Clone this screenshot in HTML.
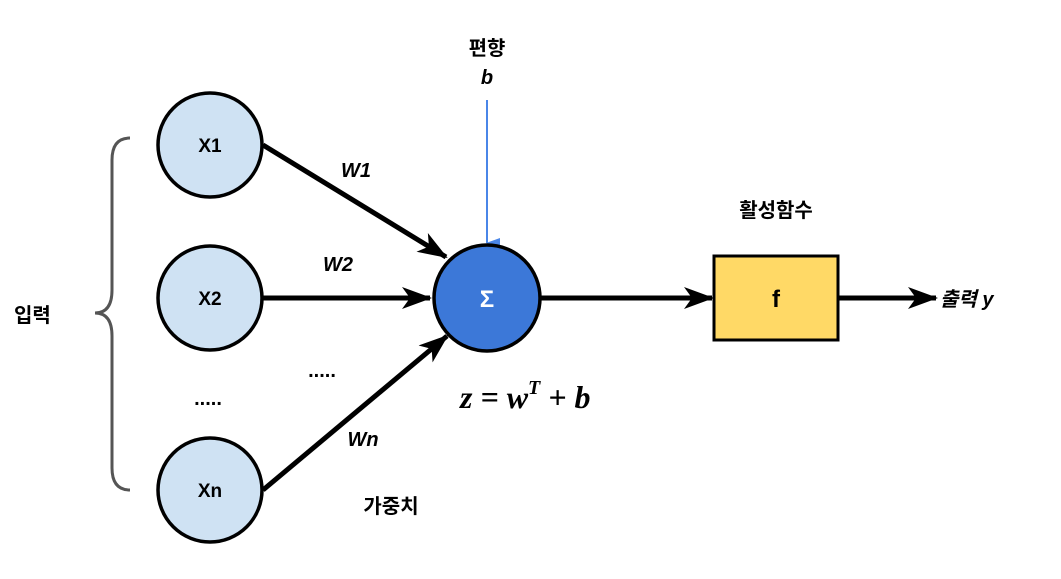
<!DOCTYPE html>
<html><head><meta charset="utf-8"><style>
body{margin:0;background:#fff;width:1061px;height:574px;overflow:hidden}
text{font-family:"Liberation Sans","Noto Sans CJK KR",sans-serif;font-weight:bold}
</style></head><body>
<svg width="1061" height="574" viewBox="0 0 1061 574" xmlns="http://www.w3.org/2000/svg">
<defs>
<marker id="a" markerWidth="12" markerHeight="10" refX="11" refY="5" orient="auto" markerUnits="userSpaceOnUse" viewBox="0 0 12 10">
<path d="M0,0 L12,5 L0,10 L3,5 Z" fill="#000"/></marker>
<marker id="b" markerWidth="30" markerHeight="22" refX="28" refY="11" orient="auto" markerUnits="userSpaceOnUse" viewBox="0 0 30 22">
<path d="M0,0 L30,11 L0,22 L8,11 Z" fill="#000"/></marker>
<marker id="bl" markerWidth="10" markerHeight="14" refX="5" refY="13" orient="auto-start-reverse" markerUnits="userSpaceOnUse" viewBox="0 0 10 14">
<path d="M0,0 L5,14 L10,0 Z" fill="#4a86e8"/></marker>
</defs>
<!-- bracket -->
<path d="M130,138 Q112,138 112,160 L112,290 Q112,313 95,313 Q112,313 112,336 L112,468 Q112,490 130,490" fill="none" stroke="#555" stroke-width="3"/>
<text x="14" y="322" font-size="20">입력</text>
<!-- lines -->
<line x1="263" y1="145" x2="446" y2="257" stroke="#000" stroke-width="5" marker-end="url(#b)"/>
<line x1="263" y1="298" x2="430" y2="298" stroke="#000" stroke-width="5" marker-end="url(#b)"/>
<line x1="263" y1="490" x2="447" y2="336" stroke="#000" stroke-width="5" marker-end="url(#b)"/>
<line x1="540" y1="298" x2="712" y2="298" stroke="#000" stroke-width="5" marker-end="url(#b)"/>
<line x1="838" y1="298" x2="936" y2="298" stroke="#000" stroke-width="5" marker-end="url(#b)"/>
<line x1="487" y1="100" x2="487" y2="243" stroke="#4a86e8" stroke-width="2" marker-end="url(#bl)"/>
<!-- circles -->
<circle cx="210" cy="145" r="52" fill="#cfe2f3" stroke="#000" stroke-width="3.5"/>
<circle cx="210" cy="298" r="52" fill="#cfe2f3" stroke="#000" stroke-width="3.5"/>
<circle cx="210" cy="490" r="52" fill="#cfe2f3" stroke="#000" stroke-width="3.5"/>
<circle cx="487" cy="298" r="53" fill="#3c78d8" stroke="#000" stroke-width="3.5"/>
<rect x="714" y="256" width="124" height="84" fill="#ffd966" stroke="#000" stroke-width="3"/>
<text x="210" y="152" font-size="19" text-anchor="middle">X1</text>
<text x="210" y="305" font-size="19" text-anchor="middle">X2</text>
<text x="210" y="497" font-size="19" text-anchor="middle">Xn</text>
<text x="487" y="307" font-size="24" text-anchor="middle" fill="#fff" font-weight="normal">Σ</text>
<text x="776" y="307" font-size="24" text-anchor="middle">f</text>
<text x="208" y="405" font-size="20" text-anchor="middle">.....</text>
<text x="322" y="377" font-size="20" text-anchor="middle">.....</text>
<text x="356" y="177" font-size="20" font-style="italic" text-anchor="middle">W1</text>
<text x="338" y="271" font-size="20" font-style="italic" text-anchor="middle">W2</text>
<text x="363" y="446" font-size="20" font-style="italic" text-anchor="middle">Wn</text>
<text x="487" y="55" font-size="20" text-anchor="middle">편향</text>
<text x="487" y="84" font-size="20" font-style="italic" text-anchor="middle">b</text>
<text x="776" y="217" font-size="20" text-anchor="middle">활성함수</text>
<text x="940" y="306" font-size="20" font-style="italic">출력 y</text>
<text x="391" y="513" font-size="20" text-anchor="middle">가중치</text>
<text x="460" y="408" font-size="32" font-family="Liberation Serif,serif" font-style="italic" font-weight="normal" style="font-family:'Liberation Serif',serif">z = w<tspan font-size="20" dy="-14">T</tspan><tspan dy="14"> + b</tspan></text>
</svg>
</body></html>
